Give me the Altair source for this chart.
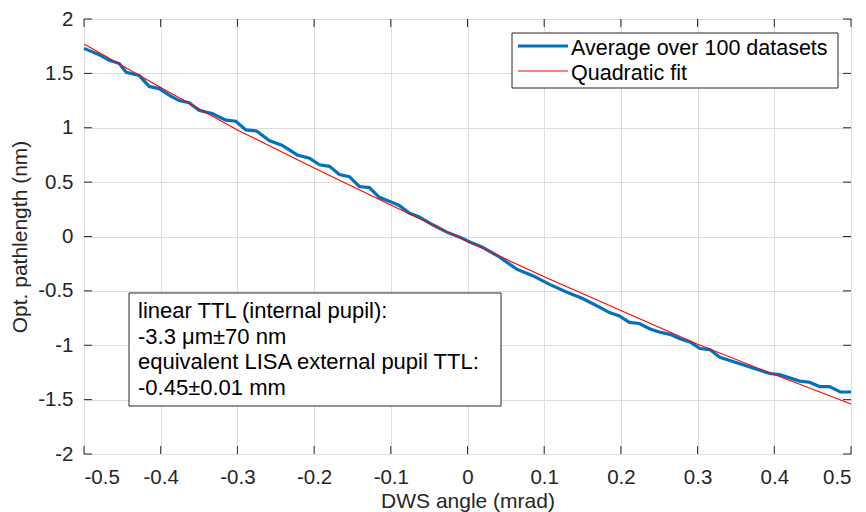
import altair as alt
import pandas as pd

# ---------------- data ----------------
avg_x = [-0.5, -0.48, -0.467, -0.454, -0.445, -0.428, -0.415, -0.402, -0.389, -0.376,
         -0.363, -0.35, -0.333, -0.315, -0.302, -0.289, -0.275, -0.258, -0.242, -0.222,
         -0.206, -0.193, -0.18, -0.167, -0.154, -0.141, -0.128, -0.115, -0.102, -0.089,
         -0.076, -0.063, -0.046, -0.027, -0.01, 0.003, 0.02, 0.042, 0.064, 0.085,
         0.107, 0.129, 0.15, 0.172, 0.185, 0.198, 0.211, 0.224, 0.238, 0.251,
         0.264, 0.277, 0.29, 0.303, 0.316, 0.329, 0.342, 0.355, 0.368, 0.381,
         0.394, 0.407, 0.42, 0.433, 0.446, 0.459, 0.472, 0.486, 0.5]
avg_y = [1.73, 1.67, 1.62, 1.59, 1.51, 1.48, 1.38, 1.36, 1.30, 1.25,
         1.23, 1.16, 1.13, 1.07, 1.06, 0.98, 0.97, 0.88, 0.84, 0.75,
         0.72, 0.66, 0.645, 0.57, 0.55, 0.46, 0.45, 0.36, 0.325, 0.285,
         0.215, 0.18, 0.11, 0.04, -0.006, -0.05, -0.10, -0.19, -0.30, -0.36,
         -0.44, -0.51, -0.57, -0.65, -0.70, -0.73, -0.79, -0.80, -0.85, -0.88,
         -0.90, -0.94, -0.97, -1.03, -1.04, -1.11, -1.14, -1.17, -1.20, -1.23,
         -1.26, -1.27, -1.30, -1.33, -1.34, -1.38, -1.38, -1.43, -1.43]

fit_x = [-0.5, -0.4, -0.3, -0.2, -0.1, 0.0, 0.1, 0.2, 0.3, 0.4, 0.5]
fit_y = [1.77, 1.37, 0.98, 0.63, 0.29, -0.045, -0.37, -0.68, -0.99, -1.27, -1.54]

series_names = ["Average over 100 datasets", "Quadratic fit"]
series_colors = ["#0072BD", "#FF0000"]
series_widths = [3.2, 1.1]

x_ticks = [-0.5, -0.4, -0.3, -0.2, -0.1, 0.0, 0.1, 0.2, 0.3, 0.4, 0.5]
y_ticks = [-2.0, -1.5, -1.0, -0.5, 0.0, 0.5, 1.0, 1.5, 2.0]

note_lines = ["linear TTL (internal pupil):",
              "-3.3 \u03bcm\u00b170 nm",
              "equivalent LISA external pupil TTL:",
              "-0.45\u00b10.01 mm"]

x_title = "DWS angle (mrad)"
y_title = "Opt. pathlength (nm)"

# ---------------- build ----------------
W, H = 767, 435
FONT = "Liberation Sans"
INK = "#262626"
TICK = 8

lines_df = pd.concat([
    pd.DataFrame({"x": avg_x, "y": avg_y, "series": series_names[0], "order": range(len(avg_x))}),
    pd.DataFrame({"x": fit_x, "y": fit_y, "series": series_names[1], "order": range(len(fit_x))}),
], ignore_index=True)

xscale = alt.Scale(domain=[-0.5, 0.5], nice=False, zero=False)
yscale = alt.Scale(domain=[-2, 2], nice=False, zero=False)

xaxis = alt.Axis(values=x_ticks, labelExpr="'' + datum.value", grid=True, ticks=False,
                 domain=False, gridColor="#dedede", gridWidth=1,
                 labelFont=FONT, labelFontSize=20.5, labelColor=INK, labelPadding=13,
                 title=x_title, titleFont=FONT, titleFontSize=21, titleFontWeight="normal",
                 titleColor=INK, titlePadding=3)
yaxis = alt.Axis(values=y_ticks, labelExpr="'' + datum.value", grid=True, ticks=False,
                 domain=False, gridColor="#dedede", gridWidth=1,
                 labelFont=FONT, labelFontSize=20.5, labelColor=INK, labelPadding=11,
                 title=y_title, titleFont=FONT, titleFontSize=21, titleFontWeight="normal",
                 titleColor=INK, titlePadding=7)

base = alt.Chart(lines_df)
lines = base.mark_line(interpolate="linear", strokeCap="butt").encode(
    x=alt.X("x:Q", scale=xscale, axis=xaxis),
    y=alt.Y("y:Q", scale=yscale, axis=yaxis),
    color=alt.Color("series:N",
                    scale=alt.Scale(domain=series_names, range=series_colors),
                    legend=None),
    strokeWidth=alt.StrokeWidth("series:N",
                                scale=alt.Scale(domain=series_names, range=series_widths),
                                legend=None),
    order="order:Q",
)

xt_df = pd.DataFrame({"v": x_ticks})
yt_df = pd.DataFrame({"v": y_ticks})
tick_b = alt.Chart(xt_df).mark_rule(color=INK, strokeWidth=1).encode(
    x=alt.X("v:Q", scale=xscale), y=alt.value(H - TICK), y2=alt.value(H))
tick_t = alt.Chart(xt_df).mark_rule(color=INK, strokeWidth=1).encode(
    x=alt.X("v:Q", scale=xscale), y=alt.value(0), y2=alt.value(TICK))
tick_l = alt.Chart(yt_df).mark_rule(color=INK, strokeWidth=1).encode(
    y=alt.Y("v:Q", scale=yscale), x=alt.value(0), x2=alt.value(TICK))
tick_r = alt.Chart(yt_df).mark_rule(color=INK, strokeWidth=1).encode(
    y=alt.Y("v:Q", scale=yscale), x=alt.value(W - TICK), x2=alt.value(W))

one = pd.DataFrame({"k": [0]})

# legend (drawn as a framed box)
leg_box = alt.Chart(one).mark_rect(fill="white", stroke=INK, strokeWidth=1).encode(
    x=alt.value(428), x2=alt.value(754), y=alt.value(14), y2=alt.value(69))
leg_sym1 = alt.Chart(one).mark_rule(color=series_colors[0], strokeWidth=series_widths[0]).encode(
    x=alt.value(434), x2=alt.value(484), y=alt.value(27))
leg_sym2 = alt.Chart(one).mark_rule(color=series_colors[1], strokeWidth=series_widths[1]).encode(
    x=alt.value(434), x2=alt.value(484), y=alt.value(52))
leg_txt1 = alt.Chart(one).mark_text(align="left", baseline="alphabetic", font=FONT,
                                    fontSize=21.5, color="black").encode(
    x=alt.value(487), y=alt.value(36), text=alt.value(series_names[0]))
leg_txt2 = alt.Chart(one).mark_text(align="left", baseline="alphabetic", font=FONT,
                                    fontSize=21.5, color="black").encode(
    x=alt.value(487), y=alt.value(60.5), text=alt.value(series_names[1]))

note_box = alt.Chart(one).mark_rect(fill="white", stroke=INK, strokeWidth=1).encode(
    x=alt.value(45), x2=alt.value(417), y=alt.value(274), y2=alt.value(387))
note_text = alt.Chart(one).mark_text(align="left", baseline="alphabetic", font=FONT,
                                     fontSize=22, lineHeight=25.5, color="black").encode(
    x=alt.value(54), y=alt.value(299), text=alt.value(note_lines))

chart = alt.layer(lines, tick_b, tick_t, tick_l, tick_r,
                  leg_box, leg_sym1, leg_sym2, leg_txt1, leg_txt2,
                  note_box, note_text).properties(
    width=W, height=H,
    autosize=alt.AutoSizeParams(type="none"),
    padding={"left": 76, "top": 11, "right": 7, "bottom": 58},
).configure_view(
    stroke=INK, strokeWidth=1
)

chart.save("out.html", embed_options={"renderer": "svg", "actions": False})
